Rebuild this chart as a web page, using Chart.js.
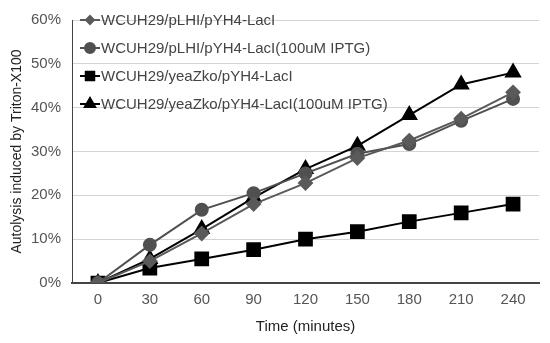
<!DOCTYPE html>
<html>
<head>
<meta charset="utf-8">
<script src="https://cdn.jsdelivr.net/npm/chart.js@4/dist/chart.umd.min.js"></script>
<style>
  html, body { margin: 0; padding: 0; background: #fff; }
  #wrap { width: 550px; height: 343px; }
</style>
</head>
<body>
<div id="wrap"><canvas id="autolysisChart"></canvas></div>
<script>
// time points (minutes)
const timeLabels = ['0', '30', '60', '90', '120', '150', '180', '210', '240'];

// autolysis (%)
const pLHI = [0, 5.0, 11.3, 18.0, 22.8, 28.5, 32.5, 37.5, 43.5];
const pLHIiptg = [0, 8.7, 16.7, 20.5, 25.0, 29.5, 31.7, 37.0, 42.0];
const yeaZko = [0, 3.4, 5.5, 7.6, 10.0, 11.7, 14.0, 16.0, 18.0];
const yeaZkoIptg = [0, 5.5, 12.3, 19.5, 26.0, 31.3, 38.3, 45.3, 48.0];

const seriesNames = [
    'WCUH29/pLHI/pYH4-LacI',
    'WCUH29/pLHI/pYH4-LacI(100uM IPTG)',
    'WCUH29/yeaZko/pYH4-LacI',
    'WCUH29/yeaZko/pYH4-LacI(100uM IPTG)'
];

const font = '"Liberation Sans", Arial, Helvetica, sans-serif';

// Excel-like legend: short line with the marker on it, drawn in the plot area
const lineLegend = {
    id: 'lineLegend',
    afterDraw(chart) {
        const ctx = chart.ctx;
        const area = chart.chartArea;
        ctx.save();
        chart.data.datasets.forEach((ds, i) => {
            const y = area.top + i * 28;
            const x0 = area.left + 8;
            ctx.strokeStyle = ds.borderColor;
            ctx.lineWidth = 2;
            ctx.beginPath();
            ctx.moveTo(x0, y);
            ctx.lineTo(x0 + 20, y);
            ctx.stroke();
            Chart.helpers.drawPoint(ctx, {
                pointStyle: ds.pointStyle,
                radius: ds.legendRadius,
                rotation: 0,
                borderWidth: 1
            }, x0 + 10, y);
            ctx.fillStyle = ds.borderColor;
            ctx.fill();
            ctx.fillStyle = '#444';
            ctx.font = '15px ' + font;
            ctx.textBaseline = 'middle';
            ctx.textAlign = 'left';
            ctx.fillText(ds.label, x0 + 21, y + 1);
        });
        ctx.restore();
    }
};

const ctx = document.getElementById('autolysisChart').getContext('2d');

new Chart(ctx, {
    type: 'line',
    data: {
        labels: timeLabels,
        datasets: [
            {
                label: seriesNames[0], data: pLHI,
                borderColor: '#5a5a5a', backgroundColor: '#5a5a5a',
                pointStyle: 'rectRot', pointRadius: 6.5, legendRadius: 4,
                borderWidth: 2
            },
            {
                label: seriesNames[1], data: pLHIiptg,
                borderColor: '#505050', backgroundColor: '#505050',
                pointStyle: 'circle', pointRadius: 6, legendRadius: 5,
                borderWidth: 2
            },
            {
                label: seriesNames[2], data: yeaZko,
                borderColor: '#000', backgroundColor: '#000',
                pointStyle: 'rect', pointRadius: 9, legendRadius: 6,
                borderWidth: 2
            },
            {
                label: seriesNames[3], data: yeaZkoIptg,
                borderColor: '#000', backgroundColor: '#000',
                pointStyle: 'triangle', pointRadius: 8, legendRadius: 6,
                borderWidth: 2
            }
        ]
    },
    options: {
        responsive: true,
        maintainAspectRatio: false,
        animation: false,
        layout: { padding: { left: 0, right: 7, top: 14, bottom: 0 } },
        plugins: {
            legend: { display: false },
            tooltip: { enabled: false }
        },
        elements: { line: { tension: 0 } },
        scales: {
            x: {
                offset: true,
                afterFit: s => { s.height = 60; },
                grid: { display: false, drawTicks: false },
                border: { color: '#444', width: 2 },
                ticks: {
                    color: '#555',
                    font: { family: font, size: 15 },
                    padding: 8
                },
                title: {
                    display: true,
                    text: 'Time (minutes)',
                    color: '#222',
                    font: { family: font, size: 15 },
                    padding: { top: 6, bottom: 7 }
                }
            },
            y: {
                min: 0,
                max: 60,
                afterFit: s => { s.width = 72; },
                grid: { color: '#d4d4d4', drawTicks: false },
                border: { color: '#444', width: 1 },
                ticks: {
                    stepSize: 10,
                    color: '#555',
                    font: { family: font, size: 15 },
                    padding: 11,
                    callback: v => v + '%'
                },
                title: {
                    display: true,
                    text: 'Autolysis induced by Triton-X100',
                    color: '#222',
                    font: { family: font, size: 14 },
                    padding: { top: 9, bottom: 4 }
                }
            }
        }
    },
    plugins: [lineLegend]
});
</script>
</body>
</html>
